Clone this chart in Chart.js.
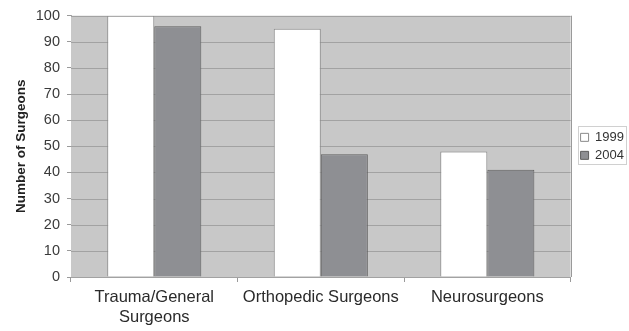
<!DOCTYPE html>
<html>
<head>
<meta charset="utf-8">
<script src="https://cdn.jsdelivr.net/npm/chart.js@4/dist/chart.umd.min.js"></script>
<style>
  html, body { margin: 0; padding: 0; background: #fff; }
  #wrap { width: 629px; height: 331px; }
</style>
</head>
<body>
<div id="wrap"><canvas id="c" width="629" height="331"></canvas></div>
<script>
// Surgeon counts by specialty, 1999 vs 2004
const categories = [["Trauma/General", "Surgeons"], "Orthopedic Surgeons", "Neurosurgeons"];
const seriesNames = ["1999", "2004"];
const values1999 = [100, 95, 48];
const values2004 = [96, 47, 41];
const yTicks = [0, 10, 20, 30, 40, 50, 60, 70, 80, 90, 100];

const FONT = "'Liberation Sans', Arial, sans-serif";
const LEGEND_SHIFT = 5;

// Grey plot background, grid, right frame line and a boxed legend
const plotFrame = {
  id: 'plotFrame',
  afterUpdate(chart) {
    // nudge the legend a little to the right of the plot
    const lg = chart.legend;
    if (!lg) return;
    lg.left += LEGEND_SHIFT;
    lg.right += LEGEND_SHIFT;
    (lg.legendHitBoxes || []).forEach(b => { b.left += LEGEND_SHIFT; });
  },
  beforeDatasetsDraw(chart) {
    const { ctx, chartArea: a } = chart;
    ctx.save();
    ctx.fillStyle = '#c8c8c8';
    ctx.fillRect(a.left, a.top, a.right - a.left, a.bottom - a.top);
    const y = chart.scales.y;
    ctx.strokeStyle = '#a2a2a2';
    ctx.lineWidth = 1;
    y.ticks.forEach(t => {
      const py = Math.round(y.getPixelForValue(t.value)) + 0.5;
      ctx.beginPath();
      ctx.moveTo(a.left, py);
      ctx.lineTo(a.right, py);
      ctx.stroke();
    });
    ctx.strokeStyle = '#9a9a9a';
    ctx.beginPath();
    ctx.moveTo(Math.round(a.right) + 0.5, a.top);
    ctx.lineTo(Math.round(a.right) + 0.5, a.bottom);
    ctx.stroke();
    ctx.restore();
  },
  afterDraw(chart) {
    const lg = chart.legend;
    if (!lg || !lg.legendHitBoxes || !lg.legendHitBoxes.length) return;
    const boxes = lg.legendHitBoxes;
    const x0 = Math.min(...boxes.map(b => b.left)) - 3;
    const x1 = Math.max(...boxes.map(b => b.left + b.width)) + 2;
    const y0 = Math.min(...boxes.map(b => b.top)) - 5;
    const y1 = Math.max(...boxes.map(b => b.top + b.height)) + 2;
    const ctx = chart.ctx;
    ctx.save();
    ctx.strokeStyle = '#d0d0d0';
    ctx.lineWidth = 1;
    ctx.strokeRect(Math.round(x0) + 0.5, Math.round(y0) + 0.5, Math.round(x1 - x0), Math.round(y1 - y0));
    ctx.restore();
  }
};

new Chart(document.getElementById('c'), {
  type: 'bar',
  data: {
    labels: categories,
    datasets: [
      {
        label: seriesNames[0],
        data: values1999,
        backgroundColor: '#ffffff',
        borderColor: '#8a8a8a',
        borderWidth: 1
      },
      {
        label: seriesNames[1],
        data: values2004,
        backgroundColor: '#8e8f93',
        borderColor: '#5e5e5e',
        borderWidth: 1
      }
    ]
  },
  options: {
    responsive: false,
    animation: false,
    devicePixelRatio: 1,
    layout: { padding: { left: 8, right: 0, top: 12, bottom: 3 } },
    datasets: {
      bar: { categoryPercentage: 0.565, barPercentage: 1.0 }
    },
    plugins: {
      tooltip: { enabled: false },
      legend: {
        position: 'right',
        align: 'center',
        fullSize: false,
        labels: {
          boxWidth: 8,
          boxHeight: 8,
          padding: 5,
          color: '#333',
          font: { family: FONT, size: 13 },
          useBorderRadius: false
        }
      }
    },
    scales: {
      x: {
        afterFit(scale) { scale.height = 51; },
        grid: {
          offset: true,
          drawOnChartArea: false,
          drawTicks: true,
          tickLength: 5,
          color: '#9a9a9a'
        },
        border: { color: '#9a9a9a' },
        ticks: {
          color: '#2a2a2a',
          font: { family: FONT, size: 16.5, lineHeight: 1.2 },
          padding: 6,
          maxRotation: 0,
          autoSkip: false
        }
      },
      y: {
        min: 0,
        max: 100,
        afterBuildTicks(scale) {
          scale.ticks = yTicks.map(v => ({ value: v }));
        },
        afterFit(scale) { scale.width = 63; },
        grid: {
          drawOnChartArea: false,
          drawTicks: true,
          tickLength: 4,
          color: '#9a9a9a'
        },
        border: { color: '#9a9a9a' },
        ticks: {
          color: '#3a3a3a',
          font: { family: FONT, size: 14.5 },
          padding: 7
        },
        title: {
          display: true,
          text: 'Number of Surgeons',
          color: '#222',
          font: { family: FONT, size: 13.5, weight: 'bold' },
          padding: { top: 5, bottom: 4 }
        }
      }
    }
  },
  plugins: [plotFrame]
});
</script>
</body>
</html>
